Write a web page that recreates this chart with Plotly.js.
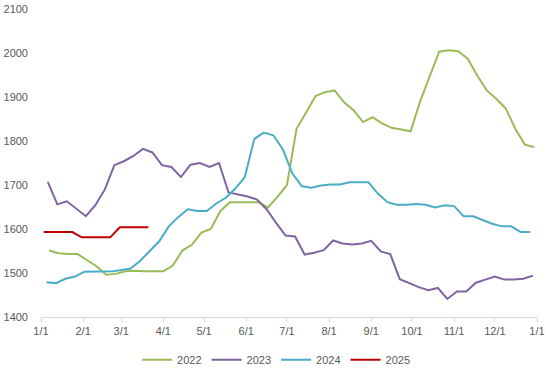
<!DOCTYPE html>
<html>
<head>
<meta charset="utf-8">
<script src="https://cdn.plot.ly/plotly-3.0.1.min.js"></script>
<style>html,body{margin:0;padding:0;background:#fff;}#chart{width:550px;height:371px;}</style>
</head>
<body>
<div id="chart"></div>
<script>
// Weekly (Friday) observation dates, month-day
var dates2022 = ["01-07","01-14","01-21","01-28","02-04","02-11","02-18","02-25","03-04","03-11","03-18","03-25","04-01","04-08","04-15","04-22","04-29","05-06","05-13","05-20","05-27","06-03","06-10","06-17","06-24","07-01","07-08","07-15","07-22","07-29","08-05","08-12","08-19","08-26","09-02","09-09","09-16","09-23","09-30","10-07","10-14","10-21","10-28","11-04","11-11","11-18","11-25","12-02","12-09","12-16","12-23","12-30"];
var dates2023 = ["01-06","01-13","01-20","01-27","02-03","02-10","02-17","02-24","03-03","03-10","03-17","03-24","03-31","04-07","04-14","04-21","04-28","05-05","05-12","05-19","05-26","06-02","06-09","06-16","06-23","06-30","07-07","07-14","07-21","07-28","08-04","08-11","08-18","08-25","09-01","09-08","09-15","09-22","09-29","10-06","10-13","10-20","10-27","11-03","11-10","11-17","11-24","12-01","12-08","12-15","12-22","12-29"];
var dates2024 = ["01-05","01-12","01-19","01-26","02-02","02-09","02-16","02-23","03-01","03-08","03-15","03-22","03-29","04-05","04-12","04-19","04-26","05-03","05-10","05-17","05-24","05-31","06-07","06-14","06-21","06-28","07-05","07-12","07-19","07-26","08-02","08-09","08-16","08-23","08-30","09-06","09-13","09-20","09-27","10-04","10-11","10-18","10-25","11-01","11-08","11-15","11-22","11-29","12-06","12-13","12-20","12-27"];
var dates2025 = ["01-03","01-10","01-17","01-24","01-31","02-07","02-14","02-21","02-28","03-07","03-14","03-21"];

var values2022 = [1551,1545,1543,1543,1529,1515,1496,1498,1504,1505,1504,1504,1504,1517,1551,1564,1592,1600,1641,1661,1661,1661,1661,1649,1673,1700,1827,1864,1902,1911,1915,1888,1870,1843,1854,1840,1830,1826,1822,1890,1949,2003,2006,2004,1987,1949,1915,1896,1874,1828,1792,1786];
var values2023 = [1707,1656,1663,1646,1629,1654,1690,1745,1754,1766,1782,1774,1745,1741,1718,1746,1750,1741,1750,1683,1679,1674,1667,1645,1614,1585,1583,1542,1546,1552,1574,1567,1565,1567,1573,1549,1543,1486,1477,1468,1461,1466,1441,1458,1458,1478,1485,1492,1485,1485,1487,1494];
var values2024 = [1479,1477,1487,1492,1503,1503,1503,1504,1507,1510,1528,1550,1572,1606,1627,1645,1641,1641,1658,1671,1692,1718,1805,1819,1813,1781,1726,1697,1694,1699,1701,1701,1706,1706,1706,1680,1661,1655,1655,1657,1655,1649,1654,1652,1629,1629,1621,1612,1606,1606,1593,1593];
var values2025 = [1593,1593,1593,1593,1581,1581,1581,1581,1604,1604,1604,1604];

var seriesNames = ["2022","2023","2024","2025"];
var seriesColors = ["#9BBB59","#8064A2","#4BACC6","#C00000"];
var baseYear = "2001-";

function toAxis(arr){ return arr.map(function(d){ return baseYear + d; }); }

var xs = [dates2022, dates2023, dates2024, dates2025];
var ys = [values2022, values2023, values2024, values2025];

var traces = seriesNames.map(function(name, i){
  return {
    type: "scatter",
    mode: "lines",
    name: name,
    x: toAxis(xs[i]),
    y: ys[i],
    line: {color: seriesColors[i], width: 2},
    hoverinfo: "skip"
  };
});

var layout = {
  width: 550,
  height: 371,
  margin: {l: 41, r: 13, t: 9, b: 54, autoexpand: false},
  paper_bgcolor: "#ffffff",
  plot_bgcolor: "#ffffff",
  font: {family: "Liberation Sans, Arial, sans-serif", size: 11, color: "#595959"},
  showlegend: true,
  legend: {
    orientation: "h",
    xref: "container",
    yref: "container",
    x: 0.502,
    xanchor: "center",
    y: 0.03,
    yanchor: "middle",
    font: {size: 11, color: "#595959"},
    itemclick: false
  },
  xaxis: {
    type: "date",
    range: ["2001-01-01", "2002-01-01"],
    dtick: "M1",
    tick0: "2001-01-01",
    tickformat: "%-m/%-d",
    showgrid: false,
    zeroline: false,
    showline: true,
    linecolor: "#D9D9D9",
    linewidth: 1,
    ticks: "outside",
    ticklen: 4,
    tickcolor: "#D9D9D9",
    tickfont: {size: 11, color: "#595959"}
  },
  yaxis: {
    range: [1400, 2100],
    dtick: 100,
    showgrid: false,
    zeroline: false,
    showline: false,
    ticks: "",
    ticklabelstandoff: 12,
    tickfont: {size: 11, color: "#595959"}
  }
};

Plotly.newPlot("chart", traces, layout, {displayModeBar: false, staticPlot: true});
</script>
</body>
</html>
